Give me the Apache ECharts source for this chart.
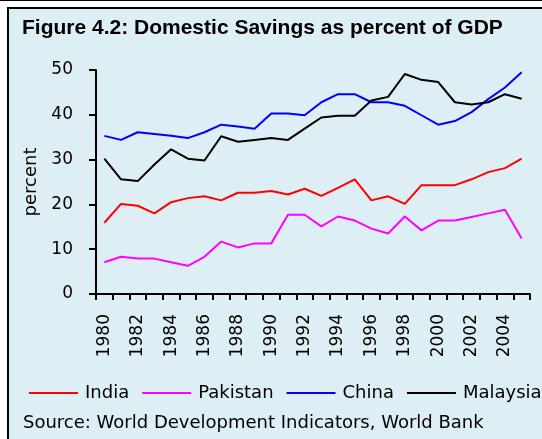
<!DOCTYPE html>
<html>
<head>
<meta charset="utf-8">
<script src="https://cdn.jsdelivr.net/npm/echarts@6/dist/echarts.min.js"></script>
<style>
  html, body { margin: 0; padding: 0; background: #fff; }
  #chart { width: 542px; height: 439px; }
</style>
</head>
<body>
<div id="chart"></div>
<script>
const years = ['1980','1981','1982','1983','1984','1985','1986','1987','1988','1989','1990','1991','1992',
  '1993','1994','1995','1996','1997','1998','1999','2000','2001','2002','2003','2004','2005'];
const india = [15.9,20.1,19.7,18.0,20.5,21.4,21.8,20.9,22.6,22.6,23.0,22.2,23.5,
  21.9,23.7,25.6,20.9,21.8,20.1,24.3,24.3,24.3,25.6,27.2,28.1,30.2];
const pakistan = [7.1,8.3,7.9,7.9,7.1,6.3,8.3,11.7,10.4,11.3,11.3,17.7,17.7,
  15.1,17.3,16.4,14.6,13.5,17.3,14.2,16.4,16.4,17.2,18.0,18.8,12.4];
const china = [35.3,34.4,36.1,35.7,35.3,34.8,36.1,37.8,37.4,36.9,40.3,40.3,39.9,
  42.8,44.6,44.6,42.8,42.8,42.0,39.9,37.8,38.6,40.6,43.5,46.1,49.5];
const malaysia = [30.2,25.6,25.2,28.9,32.3,30.2,29.8,35.2,34.0,34.4,34.8,34.4,36.9,
  39.4,39.8,39.8,43.2,44.0,49.1,47.8,47.3,42.8,42.3,42.8,44.6,43.6];

const font = 'DejaVu Sans';
const chart = echarts.init(document.getElementById('chart'));

const line = (name, data, color) => ({
  name: name,
  type: 'line',
  data: data,
  showSymbol: false,
  symbol: 'none',
  animation: false,
  lineStyle: { color: color, width: 2 },
  itemStyle: { color: color }
});

chart.setOption({
  backgroundColor: '#ffffff',
  animation: false,
  graphic: [
    { type: 'rect', z: -10, shape: { x: 0, y: 0, width: 542, height: 1 }, style: { fill: '#000' } },
    { type: 'rect', z: -10, shape: { x: 8, y: 8, width: 540, height: 440 },
      style: { fill: '#deeef5', stroke: '#000', lineWidth: 2 } },
    { type: 'text', left: 22, top: 18,
      style: { text: 'Figure 4.2: Domestic Savings as percent of GDP', fill: '#000',
        font: 'bold 21px "Liberation Sans", Arial, sans-serif' } },
    { type: 'text', left: 23, top: 414,
      style: { text: 'Source: World Development Indicators, World Bank', fill: '#000',
        font: '18px "DejaVu Sans", sans-serif' } }
  ],
  grid: { left: 96, right: 12, top: 70, bottom: 145 },
  legend: {
    data: ['India', 'Pakistan', 'China', 'Malaysia'],
    left: 29, top: 384,
    width: 530,
    padding: 0,
    icon: 'rect',
    itemWidth: 49, itemHeight: 2,
    itemGap: 13,
    textStyle: { fontFamily: font, fontSize: 18, color: '#000', padding: [0, 0, 0, 2] }
  },
  xAxis: {
    type: 'category',
    data: years,
    boundaryGap: true,
    axisLine: { lineStyle: { color: '#000', width: 2 } },
    axisTick: { show: true, interval: 0, length: 6, lineStyle: { color: '#000', width: 2 } },
    axisLabel: { interval: 1, rotate: 90, margin: 20, fontFamily: font, fontSize: 17, color: '#000' },
    splitLine: { show: false }
  },
  yAxis: {
    type: 'value',
    min: 0, max: 50, interval: 10,
    name: 'percent',
    nameLocation: 'middle',
    nameGap: 52,
    nameTextStyle: { fontFamily: font, fontSize: 18, color: '#000' },
    axisLine: { show: true, lineStyle: { color: '#000', width: 2 } },
    axisTick: { show: true, length: 7, lineStyle: { color: '#000', width: 2 } },
    axisLabel: { margin: 23, fontFamily: font, fontSize: 17, color: '#000' },
    splitLine: { show: false }
  },
  series: [
    line('India', india, '#ff0000'),
    line('Pakistan', pakistan, '#ff00ff'),
    line('China', china, '#0000ff'),
    line('Malaysia', malaysia, '#000000')
  ]
});
</script>
</body>
</html>
